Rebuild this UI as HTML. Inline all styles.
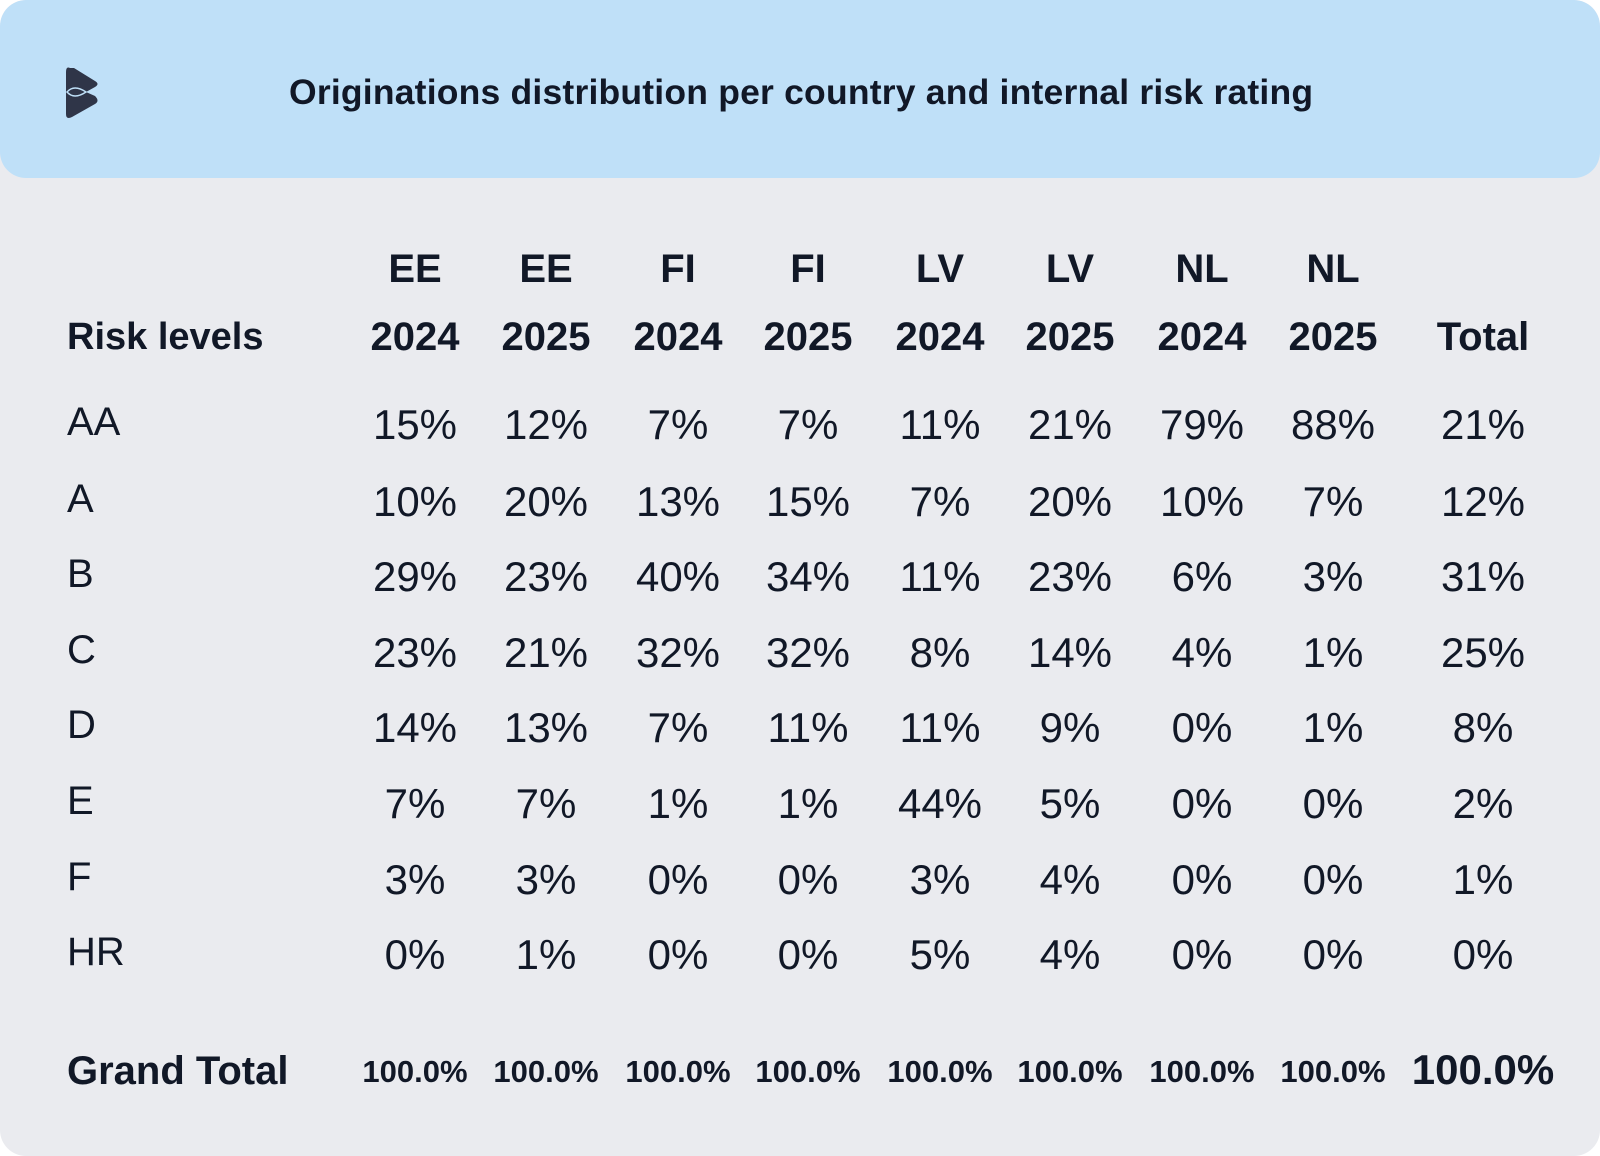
<!DOCTYPE html>
<html><head><meta charset="utf-8"><style>
body{margin:0;width:1600px;height:1156px;background:#fff;font-family:"Liberation Sans",sans-serif;color:#111827;overflow:hidden}
.card{position:absolute;left:0;top:0;width:1600px;height:1156px;background:#eaebef;border-radius:26px;overflow:hidden}
.hdr{position:absolute;left:0;top:0;width:1600px;height:178px;background:#bfe0f8;border-radius:26px}
.t{position:absolute;white-space:nowrap;line-height:1}
.c{position:absolute;width:160px;margin-left:-80px;text-align:center;white-space:nowrap;line-height:1}
.h{font-weight:bold;font-size:40px}
.d{font-size:42px}
.g{font-weight:bold;font-size:31px}
</style></head><body>
<div class="card">
<div class="hdr"></div>
<svg style="position:absolute;left:66px;top:66px" width="34" height="54" viewBox="0 0 34 54">
<path d="M4 2 Q0 0 0 6 L0 48 Q0 54 6 51 L29 38 Q34 35 29 30 L20 26 L29 21 Q34 18 29 15 L8 2 Z" fill="#2f3548"/>
<path d="M1 26 Q8 18 20 26 Q8 34 1 26 Z" fill="none" stroke="#bfe0f8" stroke-width="1.5"/>
</svg>
<div class="t" style="left:289px;top:75px;font-weight:bold;font-size:35.5px;letter-spacing:0.2px">Originations distribution per country and internal risk rating</div>
<div class="t h" style="left:67px;top:318px;font-size:38px">Risk levels</div>
<div class="t h" style="left:67px;top:1051px;font-size:40px">Grand Total</div>
<div id="cols"></div>
</div>
<script>
const xs=[415,546,678,808,940,1070,1202,1333,1483];
const h1=["EE","EE","FI","FI","LV","LV","NL","NL",""];
const h2=["2024","2025","2024","2025","2024","2025","2024","2025","Total"];
const labels=["AA","A","B","C","D","E","F","HR"];
const data=[
["15%","12%","7%","7%","11%","21%","79%","88%","21%"],
["10%","20%","13%","15%","7%","20%","10%","7%","12%"],
["29%","23%","40%","34%","11%","23%","6%","3%","31%"],
["23%","21%","32%","32%","8%","14%","4%","1%","25%"],
["14%","13%","7%","11%","11%","9%","0%","1%","8%"],
["7%","7%","1%","1%","44%","5%","0%","0%","2%"],
["3%","3%","0%","0%","3%","4%","0%","0%","1%"],
["0%","1%","0%","0%","5%","4%","0%","0%","0%"]];
const ys=[422,499,574,650,725,801,877,952];
let s="";
xs.forEach((x,i)=>{
 s+=`<div class="c h" style="left:${x}px;top:249px">${h1[i]}</div>`;
 s+=`<div class="c h" style="left:${x}px;top:317px">${h2[i]}</div>`;
 if(i<8)s+=`<div class="c g" style="left:${x}px;top:1056px">100.0%</div>`;
 else s+=`<div class="c h" style="left:${x}px;top:1049px;font-size:42px">100.0%</div>`;
});
labels.forEach((l,r)=>{
 s+=`<div class="t d" style="left:67px;top:${ys[r]-20}px;font-size:40px">${l}</div>`;
 data[r].forEach((v,i)=>{s+=`<div class="c d" style="left:${xs[i]}px;top:${ys[r]-18}px">${v}</div>`;});
});
document.getElementById("cols").outerHTML=s;
</script>
</body></html>
